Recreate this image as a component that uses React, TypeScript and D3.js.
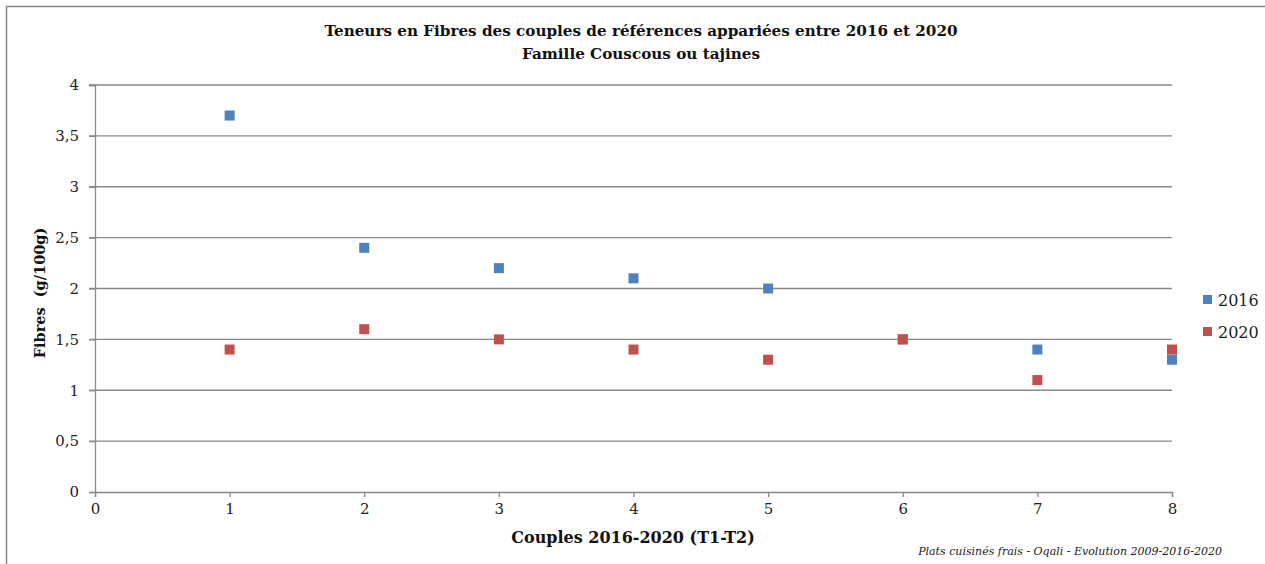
import React, { useRef, useEffect } from 'react';
import * as d3 from 'd3';

const couples = [1, 2, 3, 4, 5, 6, 7, 8];
const values2016 = [3.7, 2.4, 2.2, 2.1, 2.0, 1.5, 1.4, 1.3];
const values2020 = [1.4, 1.6, 1.5, 1.4, 1.3, 1.5, 1.1, 1.4];
const seriesNames = ['2016', '2020'];
const seriesColors = ['#4F81BD', '#C0504D'];
const yTicks = [0, 0.5, 1, 1.5, 2, 2.5, 3, 3.5, 4];
const xTicks = [0, 1, 2, 3, 4, 5, 6, 7, 8];

const FONT = "'DejaVu Serif', 'Liberation Serif', serif";

const App: React.FC = () => {
  const ref = useRef<SVGSVGElement>(null);
  const width = 1265;
  const height = 564;

  useEffect(() => {
    const svg = d3.select(ref.current);
    svg.selectAll('*').remove();

    const x = d3.scaleLinear().domain([0, 8]).range([95, 1172]);
    const y = d3.scaleLinear().domain([0, 4]).range([492, 85]);

    svg.append('rect').attr('width', width).attr('height', height).attr('fill', '#fff');

    // chart frame (only top and left visible)
    svg.append('path')
       .attr('d', `M6.5,${height} V6.5 H${width}`)
       .attr('fill', 'none')
       .attr('stroke', '#888')
       .attr('stroke-width', 1.5);

    // title
    const title = svg.append('text')
       .attr('text-anchor', 'middle')
       .attr('font-family', FONT)
       .attr('font-weight', 'bold')
       .attr('font-size', 15.2)
       .attr('fill', '#111');
    title.append('tspan').attr('x', 641).attr('y', 36)
         .text('Teneurs en Fibres des couples de références appariées entre 2016 et 2020');
    title.append('tspan').attr('x', 641).attr('y', 59)
         .text('Famille Couscous ou tajines');

    // gridlines
    svg.append('g')
       .selectAll('line')
       .data(yTicks.filter(d => d > 0))
       .join('line')
       .attr('x1', 89).attr('x2', x(8))
       .attr('y1', d => y(d)).attr('y2', d => y(d))
       .attr('stroke', '#898989')
       .attr('stroke-width', 1.3);

    // y axis
    const yAxis = svg.append('g')
       .attr('transform', `translate(${x(0)},0)`)
       .call(d3.axisLeft(y).tickValues(yTicks).tickSize(6).tickPadding(10)
         .tickFormat(d => String(d).replace('.', ',')));
    yAxis.select('.domain').attr('stroke', '#898989').attr('stroke-width', 1.3);
    yAxis.selectAll('line').attr('stroke', '#898989').attr('stroke-width', 1.3);
    yAxis.selectAll('text').attr('font-family', FONT).attr('font-size', 15).attr('fill', '#222');

    // x axis
    const xAxis = svg.append('g')
       .attr('transform', `translate(0,${y(0)})`)
       .call(d3.axisBottom(x).tickValues(xTicks).tickSize(5).tickPadding(6)
         .tickFormat(d3.format('d')));
    xAxis.select('.domain').attr('stroke', '#898989').attr('stroke-width', 1.3);
    xAxis.selectAll('line').attr('stroke', '#898989').attr('stroke-width', 1.3);
    xAxis.selectAll('text').attr('font-family', FONT).attr('font-size', 15).attr('fill', '#222');

    // axis titles
    svg.append('text')
       .attr('x', 633).attr('y', 543)
       .attr('text-anchor', 'middle')
       .attr('font-family', FONT).attr('font-weight', 'bold').attr('font-size', 16)
       .attr('fill', '#111')
       .text('Couples 2016-2020 (T1-T2)');
    svg.append('text')
       .attr('transform', `translate(45,293) rotate(-90)`)
       .attr('text-anchor', 'middle')
       .attr('font-family', FONT).attr('font-weight', 'bold').attr('font-size', 14.5)
       .attr('fill', '#111')
       .attr('xml:space', 'preserve')
       .style('white-space', 'pre')
       .text('Fibres  (g/100g)');

    // markers
    const series = [values2016, values2020];
    const size = 10;
    series.forEach((vals, i) => {
      svg.append('g')
         .selectAll('rect')
         .data(vals)
         .join('rect')
         .attr('x', (_, j) => x(couples[j]) - size / 2)
         .attr('y', d => y(d) - size / 2)
         .attr('width', size).attr('height', size)
         .attr('fill', seriesColors[i]);
    });

    // legend
    const legend = svg.append('g');
    seriesNames.forEach((name, i) => {
      const ly = 300 + i * 32;
      legend.append('rect')
            .attr('x', 1203).attr('y', ly - 5)
            .attr('width', 9).attr('height', 9)
            .attr('fill', seriesColors[i]);
      legend.append('text')
            .attr('x', 1218).attr('y', ly + 6)
            .attr('font-family', FONT).attr('font-size', 16)
            .attr('fill', '#222')
            .text(name);
    });

    // source note
    svg.append('text')
       .attr('x', 1222).attr('y', 555)
       .attr('text-anchor', 'end')
       .attr('font-family', FONT).attr('font-style', 'italic').attr('font-size', 11)
       .attr('fill', '#222')
       .text('Plats cuisinés frais - Oqali - Evolution 2009-2016-2020');
  }, []);

  return (
    <div style={{ position: 'fixed', left: 0, top: 0 }}>
      <svg ref={ref} width={width} height={height} style={{ display: 'block' }} />
    </div>
  );
};

export default App;
